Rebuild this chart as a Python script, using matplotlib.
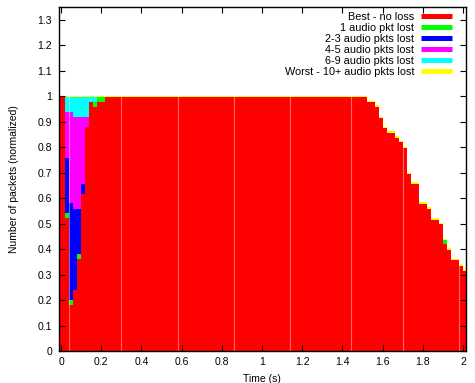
import matplotlib
matplotlib.use("Agg")
import matplotlib.pyplot as plt
from matplotlib.lines import Line2D
from matplotlib.ticker import FuncFormatter, MultipleLocator
import numpy as np

plt.rcParams["font.family"] = ["Liberation Sans", "DejaVu Sans"]

# time bins of 0.02 s, bin k covers [0.02k, 0.02(k+1))
bin_width = 0.02

labels = ["Best - no loss", "1 audio pkt lost", "2-3 audio pkts lost",
          "4-5 audio pkts lost", "6-9 audio pkts lost",
          "Worst - 10+ audio pkts lost"]
colors = ["#ff0000", "#00ff00", "#0000ff", "#ff00ff", "#00ffff", "#ffff00"]

# normalized packet share per bin (101 bins)
best = [0.995, 0.52, 0.18, 0.239, 0.36, 0.618, 0.879, 0.978, 0.958, 0.978,
        0.978] + [0.995] * 65 + [
        0.978, 0.978, 0.959, 0.915, 0.876, 0.857, 0.857, 0.837, 0.819, 0.796,
        0.695, 0.657, 0.657, 0.578, 0.578, 0.559, 0.515, 0.515, 0.498, 0.42,
        0.398, 0.356, 0.356, 0.335, 0.315]
loss1 = [0, 0.02, 0.02, 0, 0.02, 0, 0, 0, 0.02, 0.017, 0.017] + [0] * 84 + \
        [0.015] + [0] * 5
loss2_3 = [0, 0.217, 0.379, 0.32, 0.179, 0.039] + [0] * 95
loss4_5 = [0, 0.181, 0.359, 0.36, 0.36, 0.262, 0.04] + [0] * 94
loss6_9 = [0, 0.057, 0.057, 0.076, 0.076, 0.076, 0.076, 0.017, 0.017] + [0] * 92
loss10 = [0.005] * 101

# faint seams between filled chunks (bin indices)
seams = [2, 15, 29, 43, 57, 72, 85, 99]

layers = [best, loss1, loss2_3, loss4_5, loss6_9, loss10]

fig = plt.figure(figsize=(4.75, 3.83), dpi=100)
ax = fig.add_axes([59 / 475, 32 / 383, 406.5 / 475, 344 / 383])

x_left, x_right = -0.01, 2.012
n = len(best)
edges = np.arange(n + 1) * bin_width
edges[0] = x_left

bottom = np.zeros(n)
for vals, col in zip(layers, colors):
    vals = np.array(vals, dtype=float)
    top = bottom + vals
    ax.fill_between(edges, np.append(bottom, bottom[-1]), np.append(top, top[-1]),
                    step="post", color=col, linewidth=0, antialiased=False)
    bottom = top

total = bottom
for k in seams:
    ax.plot([k * bin_width, k * bin_width], [0, total[k - 1]], color="white",
            alpha=0.4, lw=0.8, solid_capstyle="butt")

ax.set_xlim(x_left, x_right)
ax.set_ylim(0, 1.35)
ax.xaxis.set_major_locator(MultipleLocator(0.2))
ax.yaxis.set_major_locator(MultipleLocator(0.1))
fmt = FuncFormatter(lambda v, p: "%g" % round(v, 2))
ax.xaxis.set_major_formatter(fmt)
ax.yaxis.set_major_formatter(fmt)
ax.tick_params(direction="in", length=4, width=0.8, labelsize=7.5,
               top=True, right=True, color="black")
ax.tick_params(axis="x", pad=4)
ax.tick_params(axis="y", pad=5)
for s in ax.spines.values():
    s.set_linewidth(1.0)

ax.set_xlabel("Time (s)", fontsize=7.5, labelpad=5)
ax.set_ylabel("Number of packets (normalized)", fontsize=7.5, labelpad=13)

handles = [Line2D([0], [0], color=c, lw=3.6, solid_capstyle="butt") for c in colors]
ax.legend(handles, labels, loc="upper right", bbox_to_anchor=(0.968, 0.986),
          frameon=False, markerfirst=False, fontsize=7.8, handlelength=2.9,
          handletextpad=0.65, labelspacing=0.1, borderpad=0, borderaxespad=0)

fig.savefig("out.png", dpi=100)
